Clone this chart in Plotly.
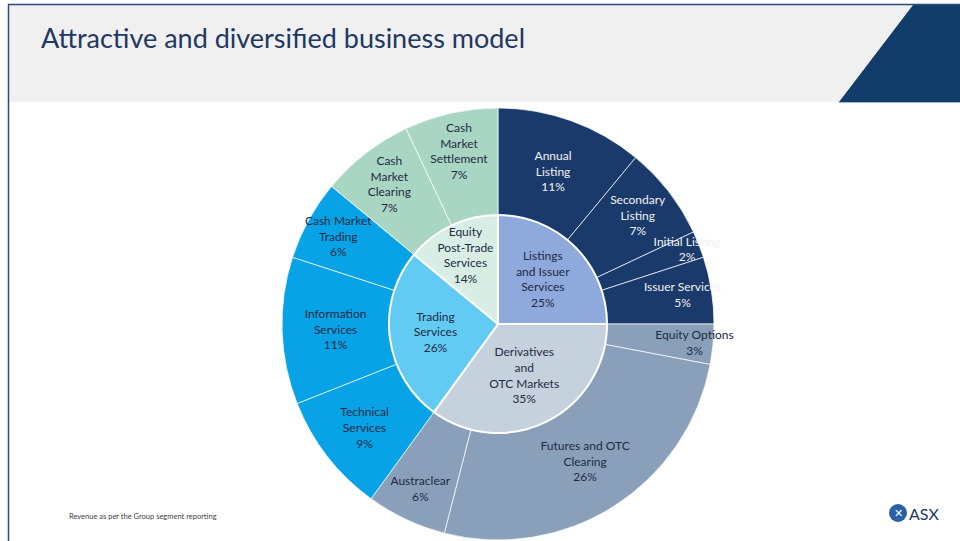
import plotly.graph_objects as go

# inner ring: business segments (% of revenue)
segments = ["Listings<br>and Issuer<br>Services", "Derivatives<br>and<br>OTC Markets",
            "Trading<br>Services", "Equity<br>Post-Trade<br>Services"]
segment_pct = [25, 35, 26, 14]
segment_colors = ["#8ea9db", "#c6d1de", "#62cbf4", "#d8ede4"]

# outer ring: revenue lines (% of revenue)
lines = ["Annual<br>Listing", "Secondary<br>Listing", "Initial Listing", "Issuer Services",
         "Equity Options", "Futures and OTC<br>Clearing", "Austraclear",
         "Technical<br>Services", "Information<br>Services", "Cash Market<br>Trading",
         "Cash<br>Market<br>Clearing", "Cash<br>Market<br>Settlement"]
line_pct = [11, 7, 2, 5, 3, 26, 6, 9, 11, 6, 7, 7]
line_colors = (["#1b3a6c"] * 4 + ["#8aa0ba"] * 3 + ["#08a3e6"] * 3 + ["#a9d6c3"] * 2)
line_text_colors = (["#f2f2f2"] * 4 + ["#1f2a44"] * 8)

W, H = 960, 541
cx, cy, r_out, r_in = 498, 324, 216, 109


def dom(r):
    return dict(x=[(cx - r) / W, (cx + r) / W], y=[1 - (cy + r) / H, 1 - (cy - r) / H])


fig = go.Figure()

fig.add_trace(go.Pie(
    values=line_pct, labels=[l.replace("<br>", " ") for l in lines],
    text=[f"{l}<br>{p}%" for l, p in zip(lines, line_pct)],
    texttemplate="%{text}", textposition="inside", insidetextorientation="horizontal",
    textfont=dict(family="Lato", size=12, color=line_text_colors),
    marker=dict(colors=line_colors, line=dict(color="rgba(255,255,255,0.7)", width=1)),
    sort=False, direction="clockwise", hole=r_in / r_out,
    domain=dom(r_out), showlegend=False, hoverinfo="label+value",
))

fig.add_trace(go.Pie(
    values=segment_pct, labels=[s.replace("<br>", " ") for s in segments],
    text=[f"{s}<br>{p}%" for s, p in zip(segments, segment_pct)],
    texttemplate="%{text}", textposition="inside", insidetextorientation="horizontal",
    textfont=dict(family="Lato", size=12, color="#1f2a44"),
    marker=dict(colors=segment_colors, line=dict(color="white", width=2)),
    sort=False, direction="clockwise",
    domain=dom(r_in), showlegend=False, hoverinfo="label+value",
))

shapes = [
    # header band
    dict(type="rect", x0=9, x1=960, y0=5, y1=102, fillcolor="#f0f0f0", line_width=0, layer="below"),
    dict(type="path", path="M 913,5 L 960,5 L 960,102 L 839,102 Z", fillcolor="#123c6a", line_width=0),
    dict(type="line", x0=8, x1=960, y0=4.5, y1=4.5, line=dict(color="#2c4a7c", width=1.5)),
    dict(type="line", x0=8.5, x1=8.5, y0=4.5, y1=541, line=dict(color="#2c4a7c", width=1.5)),
    dict(type="line", x0=839, x1=960, y0=102.5, y1=102.5, line=dict(color="#9fb6d0", width=1)),
    # logo mark
    dict(type="circle", x0=889, x1=907, y0=504, y1=522, fillcolor="#2b5fa8", line_width=0),
]

fig.update_layout(
    width=W, height=H, margin=dict(l=0, r=0, t=0, b=0),
    paper_bgcolor="white", plot_bgcolor="white",
    xaxis=dict(range=[0, W], visible=False, domain=[0, 1], fixedrange=True),
    yaxis=dict(range=[H, 0], visible=False, domain=[0, 1], fixedrange=True),
    uniformtext=dict(minsize=12, mode="show"),
    shapes=shapes,
    annotations=[
        dict(x=39, y=37, xref="x", yref="y", text="Attractive and diversified business model",
             showarrow=False, xanchor="left", yanchor="middle",
             font=dict(family="Lato", size=27, color="#1f3864")),
        dict(x=67, y=516, xref="x", yref="y", text="Revenue as per the Group segment reporting",
             showarrow=False, xanchor="left", yanchor="middle",
             font=dict(family="Lato", size=7.5, color="#404040")),
        dict(x=898, y=513, xref="x", yref="y", text="<b>✕</b>", showarrow=False,
             font=dict(family="DejaVu Sans", size=11, color="white")),
        dict(x=907, y=513, xref="x", yref="y", text="ASX", showarrow=False,
             xanchor="left", yanchor="middle",
             font=dict(family="Lato", size=16, color="#1f3864")),
    ],
)

# drop the default 8px body margin so the figure fills the window exactly
fig.write_html("out.html", config={"displayModeBar": False},
               post_script="document.body.style.margin='0';")
